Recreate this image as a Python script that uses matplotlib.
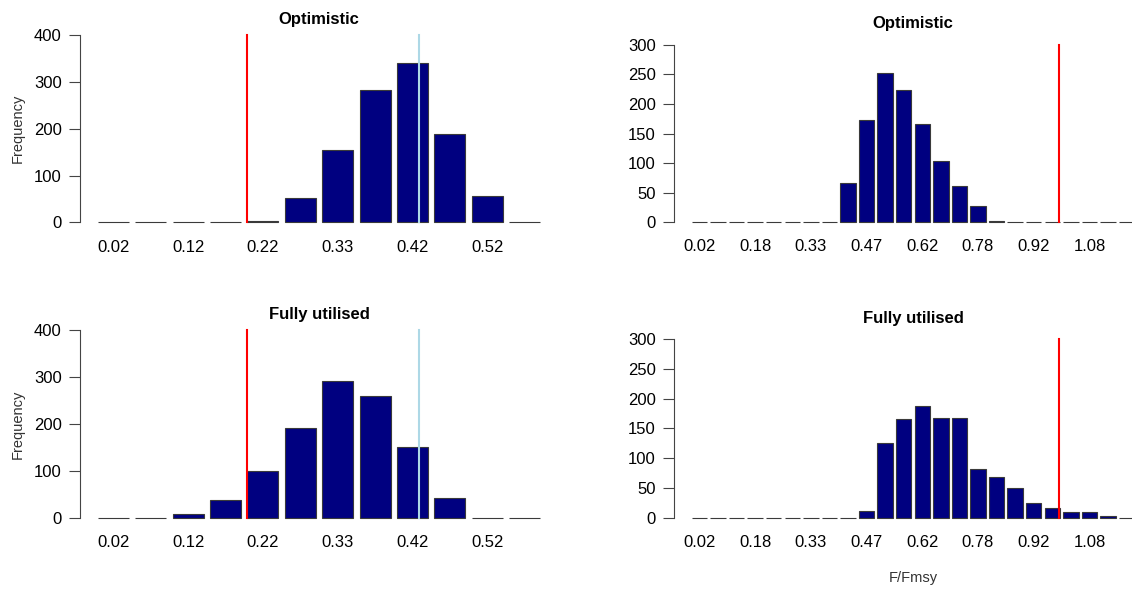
import numpy as np
import matplotlib.pyplot as plt

plt.rcParams['font.family'] = ['Liberation Sans', 'DejaVu Sans']

# bar names (left panels: 12 classes, right panels: 24 classes)
left_names = ['0.02', '0.07', '0.12', '0.17', '0.22', '0.28',
              '0.33', '0.38', '0.42', '0.47', '0.52', '0.57']
right_names = ['0.02', '0.07', '0.12', '0.18', '0.23', '0.28', '0.33', '0.38',
               '0.42', '0.47', '0.52', '0.57', '0.62', '0.67', '0.72', '0.78',
               '0.83', '0.87', '0.92', '0.97', '1.03', '1.08', '1.13', '1.18']

# frequencies
opt_left = [0, 0, 0, 0, 2, 52, 155, 283, 340, 189, 56, 0]
full_left = [0, 0, 8, 38, 99, 191, 291, 260, 150, 42, 0, 0]
opt_right = [0, 0, 0, 0, 0, 0, 0, 0, 66, 172, 252, 224,
             166, 103, 62, 28, 3, 0, 0, 0, 0, 0, 0, 0]
full_right = [0, 0, 0, 0, 0, 0, 0, 0, 0, 11, 125, 166,
              187, 167, 167, 81, 69, 50, 25, 16, 9, 9, 3, 0]

# reference lines in barplot units
left_red, left_blue = 5.0, 10.5
right_red = 23.95

W, H = 1132, 595
fig = plt.figure(figsize=(W / 100, H / 100), dpi=100)


def add_panel(left, top, width, height, counts, names, ymax, ystep, step,
              title, title_xy, red, blue=None):
    ax = fig.add_axes([left / W, 1 - (top + height) / H, width / W, height / H])
    n = len(counts)
    x = 0.7 + 1.2 * np.arange(n)
    ax.bar(x, counts, width=1.0, color='#000080', edgecolor='#3a3a3a',
           linewidth=0.8)
    ax.plot([red, red], [0, ymax], color='red', lw=1.5, zorder=3)
    if blue is not None:
        ax.plot([blue, blue], [0, ymax], color='#ADD8E6', lw=1.5, zorder=3)
    lo, hi = 0.2, 1.2 * n
    pad = 0.04 * (hi - lo)
    ax.set_xlim(lo - pad, hi + pad)
    ax.set_ylim(-0.04 * ymax, 1.04 * ymax)
    for s in ['top', 'right', 'bottom']:
        ax.spines[s].set_visible(False)
    ax.spines['left'].set_bounds(0, ymax)
    ax.spines['left'].set_color('#444444')
    ax.spines['left'].set_linewidth(0.8)
    ax.set_yticks(np.arange(0, ymax + 1, ystep))
    ax.tick_params(axis='y', length=7.7, width=0.8, color='#444444',
                   labelsize=12, pad=5.5)
    ax.set_xticks(x[::step])
    ax.set_xticklabels(names[::step])
    ax.tick_params(axis='x', length=0, labelsize=12, pad=7)
    fig.text(title_xy[0] / W, 1 - title_xy[1] / H, title, ha='center',
             va='center', fontsize=12, fontweight='bold')
    return ax


add_panel(80, 27.8, 478, 202, opt_left, left_names, 400, 100, 2,
          'Optimistic', (319, 19.7), left_red, left_blue)
add_panel(674, 37.6, 478, 191.8, opt_right, right_names, 300, 50, 3,
          'Optimistic', (913, 23.7), right_red)
add_panel(80, 322.5, 478, 203, full_left, left_names, 400, 100, 2,
          'Fully utilised', (319, 314.7), left_red, left_blue)
add_panel(674, 332.1, 478, 192.7, full_right, right_names, 300, 50, 3,
          'Fully utilised', (913, 318.7), right_red)

# axis labels
fig.text(18 / W, 1 - 128.8 / H, 'Frequency', rotation=90, ha='center',
         va='center', fontsize=10.5, color='#333333')
fig.text(18 / W, 1 - 424 / H, 'Frequency', rotation=90, ha='center',
         va='center', fontsize=10.5, color='#333333')
fig.text(913 / W, 1 - 578 / H, 'F/Fmsy', ha='center', va='center',
         fontsize=10.5, color='#333333')

fig.savefig('out.png', dpi=100)
